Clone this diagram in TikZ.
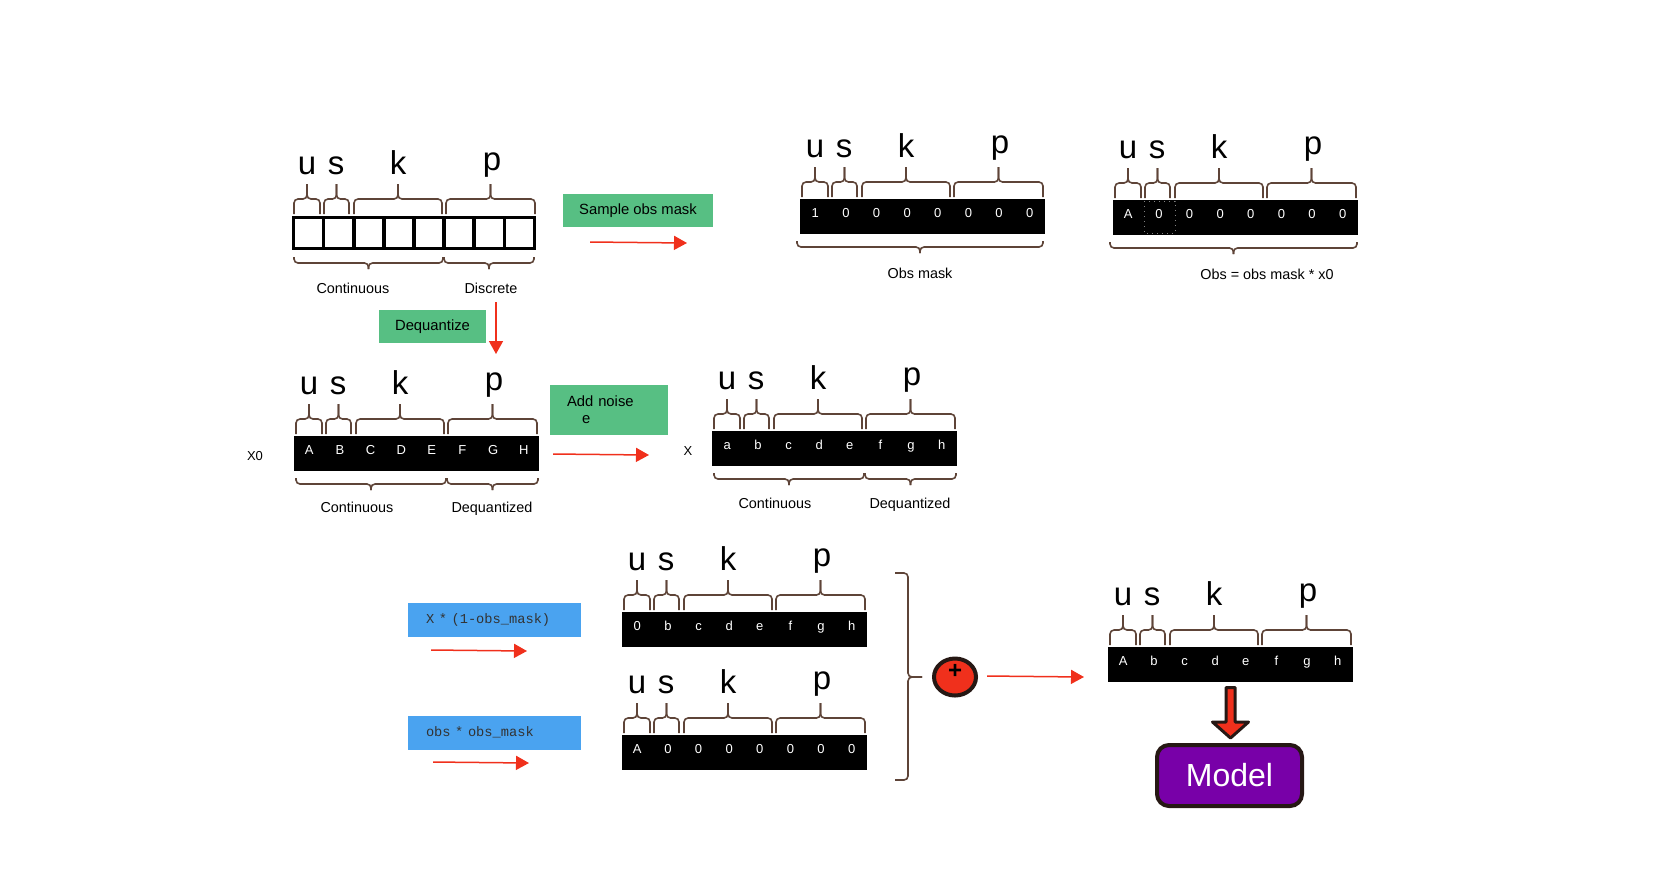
\documentclass[tikz,border=0pt]{standalone}
\usepackage{fontspec}
\setmainfont{Liberation Sans}
\setmonofont{Liberation Mono}
\usepackage{xcolor}
\usetikzlibrary{arrows.meta, positioning, shapes.geometric}

\definecolor{bracebrown}{RGB}{94,68,56}
\definecolor{arrred}{RGB}{240,48,28}
\definecolor{boxgreen}{RGB}{87,191,131}
\definecolor{boxblue}{RGB}{74,163,240}
\definecolor{modelpurple}{RGB}{120,0,168}
\definecolor{edgedark}{RGB}{38,24,20}

% brace above a group of cells (x left, x right, row top)
\newcommand{\topbrace}[3]{%
  \draw[brc] (#1,#3-2) -- (#1,#3-17) -- ({(#1+#2)/2},#3-17) -- ({(#1+#2)/2},#3-32);
  \draw[brc] (#2,#3-2) -- (#2,#3-17) -- ({(#1+#2)/2},#3-17) -- ({(#1+#2)/2},#3-32);}
% brace below a row (x left, x right, row bottom)
\newcommand{\botbrace}[3]{%
  \draw[brc] (#1,#3+7) -- (#1,#3+13) -- ({(#1+#2)/2},#3+13) -- ({(#1+#2)/2},#3+19);
  \draw[brc] (#2,#3+7) -- (#2,#3+13) -- ({(#1+#2)/2},#3+13) -- ({(#1+#2)/2},#3+19);}
% u s k p names and their braces (name, x, y of row top)
\newcommand{\usknames}[3]{%
  \node[varname] (#1-u) at (#2+15,#3-42) {u};
  \node[varname] (#1-s) at (#2+44,#3-42) {s};
  \node[varname] (#1-k) at (#2+106,#3-42) {k};
  \node[varname] (#1-p) at (#2+200,#3-46) {p};
  \topbrace{#2+2}{#2+28}{#3}
  \topbrace{#2+32}{#2+57}{#3}
  \topbrace{#2+62}{#2+150}{#3}
  \topbrace{#2+154}{#2+243}{#3}}
% black row of values (name, x, y, values)
\newcommand{\valrow}[4]{%
  \node[vecbox] (#1) at (#2,#3) {};
  \foreach \v [count=\i] in {#4}
    \node[cellval] (#1-\i) at ({#2+(\i-0.5)*30.625},#3+18) {\v};
  \usknames{#1}{#2}{#3}}

\begin{document}
\begin{tikzpicture}[
    x=0.5pt, y=-0.5pt,
    brc/.style={draw=bracebrown, line width=0.8pt, rounded corners=2pt},
    varname/.style={anchor=base, inner sep=0, font=\fontsize{16.5}{17}\selectfont},
    vecbox/.style={anchor=north west, fill=black, inner sep=0, minimum width=122.5pt, minimum height=17.5pt},
    cellval/.style={anchor=base, inner sep=0, text=white, font=\fontsize{6.5}{7}\selectfont},
    emptycell/.style={draw=black, line width=1.7pt, inner sep=0, minimum width=15.04pt, minimum height=15.6pt},
    lbl/.style={anchor=base, inner sep=0, font=\fontsize{7.2}{8}\selectfont},
    gbox/.style={fill=boxgreen, inner sep=0, font=\fontsize{7.4}{8.5}\selectfont},
    bbox/.style={fill=boxblue, inner ysep=0, inner xsep=9pt, text width=68.5pt, align=left,
                 minimum width=86.5pt, minimum height=17pt, text=black!80,
                 font=\ttfamily\fontsize{6.85}{8}\selectfont},
    rarr/.style={draw=arrred, line width=0.75pt, -{Triangle[length=6.5pt, width=7pt]}}
]
\useasboundingbox (0,0) rectangle (1673,869);

   % Raw vector
   \foreach \i in {1,...,8}
     \node[emptycell] (raw-\i) at ({293.7+(\i-0.5)*30.075},233) {};
   \usknames{raw}{292}{216}
   \botbrace{294}{443}{250}
   \botbrace{444}{534}{250}
   \node[lbl] (rawcont) at (353,293) {Continuous};
   \node[lbl] (rawdisc) at (491,293) {Discrete};

   % Sample obs mask
   \node[gbox, minimum width=75pt, minimum height=16.5pt] (sample) at (638,210.5) {Sample obs mask};
   \coordinate (samplea) at (590,242);
   \coordinate (sampleb) at (687,243);
   \draw[rarr] (samplea) -- (sampleb);

   % Obs mask and obs
   \valrow{mask}{800}{199}{1,0,0,0,0,0,0,0}
   \botbrace{797}{1043}{234}
   \node[lbl] (masklbl) at (920,278) {Obs mask};

   \valrow{obs}{1113}{200}{A,0,0,0,0,0,0,0}
   \draw[gray, line width=0.5pt, dotted] (1144,201) rectangle (1175,233);
   \botbrace{1110}{1357}{235}
   \node[lbl] (obslbl) at (1267,279) {Obs = obs mask * x0};

   % Dequantize
   \node[gbox, minimum width=53.5pt, minimum height=16.5pt] (dequant) at (432.5,326.5) {Dequantize};
   \coordinate (deqa) at (496,302);
   \coordinate (deqb) at (496,354);
   \draw[rarr] (deqa) -- (deqb);

   % x0
   \node[lbl, font=\fontsize{6.5}{7}\selectfont] (xzerolbl) at (255,460.5) {X0};
   \valrow{xzero}{294}{436}{A,B,C,D,E,F,G,H}
   \botbrace{296}{446}{471}
   \botbrace{447}{538}{471}
   \node[lbl] (xzerocont) at (357,512) {Continuous};
   \node[lbl] (xzerodeq) at (492,512) {Dequantized};

   % Add noise
   \node[gbox, minimum width=59pt, minimum height=25pt, text width=42pt, inner xsep=8.5pt, align=left] (noise) at (609,410) {Add noise\\\hspace*{7.5pt}e};
   \coordinate (noisea) at (553,454);
   \coordinate (noiseb) at (649,455);
   \draw[rarr] (noisea) -- (noiseb);

   % x
   \node[lbl, font=\fontsize{6.5}{7}\selectfont] (xtlbl) at (688,455.5) {X};
   \valrow{xt}{712}{431}{a,b,c,d,e,f,g,h}
   \botbrace{714}{864}{466}
   \botbrace{865}{956}{466}
   \node[lbl] (xtcont) at (775,508) {Continuous};
   \node[lbl] (xtdeq) at (910,508) {Dequantized};

   % Masked parts
   \node[bbox] (mulfree) at (494.5,620) {X~*~(1-obs\_mask)};
   \coordinate (freea) at (431,650);
   \coordinate (freeb) at (527,651);
   \draw[rarr] (freea) -- (freeb);
   \node[bbox] (mulobs) at (494.5,732.5) {obs~*~obs\_mask};
   \coordinate (obsa) at (433,762);
   \coordinate (obsb) at (529,763);
   \draw[rarr] (obsa) -- (obsb);

   \valrow{xmask}{622}{612}{0,b,c,d,e,f,g,h}
   \valrow{obsmask}{622}{735}{A,0,0,0,0,0,0,0}

   % Sum
   \draw[brc, rounded corners=2pt] (895,573) -- (908,573) -- (908,677) -- (922,677);
   \draw[brc, rounded corners=2pt] (895,780) -- (908,780) -- (908,677) -- (922,677);
   \node[ellipse, draw=edgedark, fill=arrred, line width=2pt, minimum width=21pt, minimum height=18.5pt, inner sep=0] (plus) at (955,677) {};
   \node[inner sep=0, font=\fontsize{12}{12}\selectfont\bfseries] (plussign) at (955,671) {+};
   \coordinate (suma) at (987,676);
   \coordinate (sumb) at (1084,677);
   \draw[rarr] (suma) -- (sumb);

   % Model input
   \valrow{res}{1108}{647}{A,b,c,d,e,f,g,h}
   \draw[draw=edgedark, fill=arrred, line width=1.5pt, line join=round]
     (1226,687.5) -- (1235,687.5) -- (1235,722) -- (1248.5,722) -- (1230.5,738)
     -- (1212.5,722) -- (1226,722) -- cycle;
   \node[draw=edgedark, line width=2pt, fill=modelpurple, rounded corners=6pt, minimum width=72.5pt,
         minimum height=30.5pt, text=white, font=\fontsize{16}{16}\selectfont] (model) at (1229.5,775.5) {Model};
\end{tikzpicture}
\end{document}
